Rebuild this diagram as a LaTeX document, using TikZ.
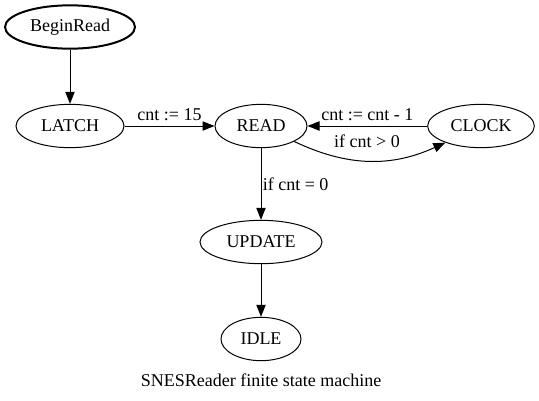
\documentclass[tikz,border=0pt]{standalone}
\usepackage{fontspec}
\setmainfont{Liberation Serif}
\usepackage{tikz}
\usetikzlibrary{positioning, arrows.meta, shapes.geometric}

\begin{document}
\begin{tikzpicture}[x=0.75pt, y=-0.75pt, line width=0.75pt,
		>={Triangle[length=9pt,width=7pt]},
		every node/.style={font=\fontsize{13.5pt}{16pt}\selectfont},
		fsm/.style={ellipse, draw, inner sep=0pt, minimum height=32.5pt},
		on grid]
					\useasboundingbox (0,0) rectangle (539,400);
					
					\node[fsm, line width=1.5pt, minimum width=97.5pt] (begin) at (70,27) {BeginRead};
					\node[fsm, minimum width=81pt, below=74.25pt of begin] (latch) {LATCH};
					\node[fsm, minimum width=69pt, right=143.25pt of latch] (read) {READ};
					\node[fsm, minimum width=80pt, right=165pt of read] (clock) {CLOCK};
					\node[fsm, minimum width=91.5pt, below=87pt of read] (update) {UPDATE};
					\node[fsm, minimum width=60pt, below=72.75pt of update] (idle) {IDLE};
					\node[below=30.75pt of idle] (caption) {SNESReader finite state machine};
					
					\draw[->] (begin) edge (latch);
					\draw[->] (latch) edge node[above] {cnt := 15} (read);
					\draw[->] (clock) edge node[above] {cnt := cnt - 1} (read);
					\draw[->] (read) edge[bend right=25] node[above, yshift=6pt, xshift=-2pt] {if cnt > 0} (clock);
					\draw[->] (read) edge node[right, inner sep=1pt] {if cnt = 0} (update);
					\draw[->] (update) edge (idle);
				\end{tikzpicture}
\end{document}
